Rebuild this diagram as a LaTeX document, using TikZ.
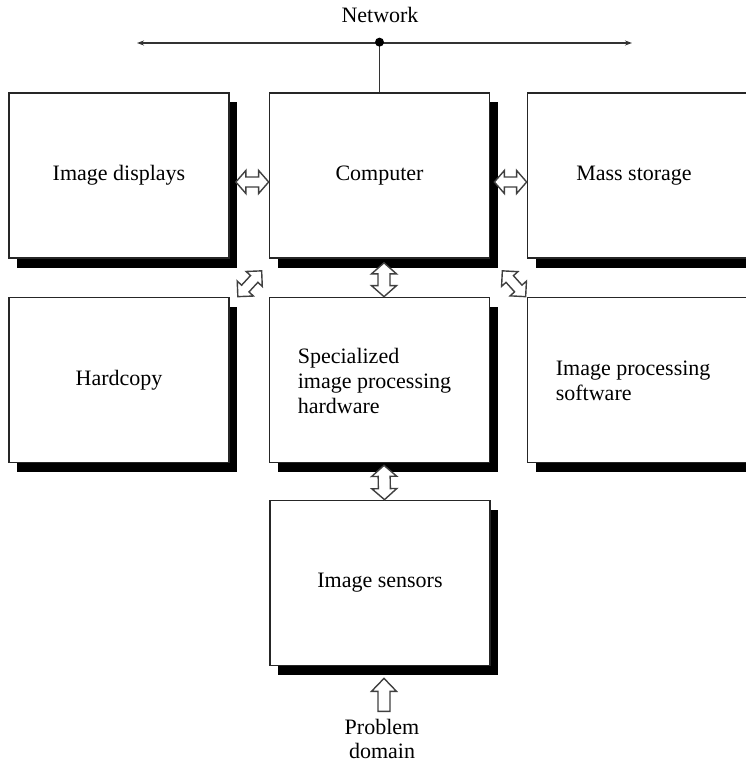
\documentclass[tikz,border=0pt]{standalone}
\usepackage{fontspec}
\setmainfont{Liberation Serif}
\usetikzlibrary{calc,shadows,arrows.meta}
\newcommand\dblarrow[5]{% A, B, head length, half head width, half shaft width
  \draw[arrowline] (#1) -- ($(#1)!#3!(#2)!#4!90:(#2)$) -- ($(#1)!#3!(#2)!#5!90:(#2)$)
    -- ($(#2)!#3!(#1)!#5!-90:(#1)$) -- ($(#2)!#3!(#1)!#4!-90:(#1)$) -- (#2)
    -- ($(#2)!#3!(#1)!#4!90:(#1)$) -- ($(#2)!#3!(#1)!#5!90:(#1)$)
    -- ($(#1)!#3!(#2)!#5!-90:(#2)$) -- ($(#1)!#3!(#2)!#4!-90:(#2)$) -- cycle;}
\begin{document}
\begin{tikzpicture}[x=1pt,y=-1pt,
  box/.style={draw=black!85, line width=1.7pt, fill=white, minimum width=220pt,
    minimum height=165pt, inner sep=0pt, font=\fontsize{22}{25}\selectfont,
    drop shadow={shadow xshift=8pt, shadow yshift=-9.5pt, fill=black, opacity=1}},
  lbl/.style={font=\fontsize{22}{25}\selectfont, inner sep=0pt},
  arrowline/.style={draw=black!75, line width=1.4pt, fill=white, line join=miter},
  netline/.style={draw=black!80, line width=1.6pt}]
\useasboundingbox (0,0) rectangle (746,765);

% boxes
\node[box] (disp) at (119,175.5) {Image displays};
\node[box] (comp) at (379.5,175.5) {Computer};
\node[box] (mass) at (637.5,175.5) {\hspace*{-7pt}Mass storage};
\node[box] (hard) at (119,380) {Hardcopy};
\node[box] (spec) at (379.5,380) {};
\node[box] (soft) at (637.5,380) {};
\node[box] (sens) at (380,583) {Image sensors};

\node[lbl, anchor=west, align=left] (spect) at ($(spec.west)+(29,1)$)
  {Specialized\\image processing\\hardware};
\node[lbl, anchor=west, align=left] (softt) at ($(soft.west)+(29,1)$)
  {Image processing\\software};

% network
\node[lbl] (net) at (380,15) {Network};
\coordinate (nl) at (137,43);
\coordinate (nr) at (632,43);
\coordinate (nd) at ($(comp.north)+(0,-50)$);
\draw[netline, {Stealth[length=7pt,width=5pt]}-{Stealth[length=7pt,width=5pt]}] (nl) -- (nr);
\draw[netline] (nd) -- (comp.north);
\fill[black] (nd) circle (4.5);

% block arrows
\coordinate (a1) at ($(disp.east)+(6,6.5)$);
\coordinate (b1) at ($(comp.west)+(0,6.5)$);
\dblarrow{a1}{b1}{10pt}{11.5pt}{5pt}
\coordinate (a2) at ($(comp.east)+(4,6.5)$);
\coordinate (b2) at ($(mass.west)+(0,6.5)$);
\dblarrow{a2}{b2}{10pt}{11.5pt}{5pt}
\coordinate (a3) at ($(comp.south)+(4.5,4)$);
\coordinate (b3) at ($(spec.north)+(4.5,0)$);
\dblarrow{a3}{b3}{11pt}{12.5pt}{6pt}
\coordinate (a4) at ($(spec.south)+(4.5,2)$);
\coordinate (b4) at ($(sens.north)+(4.5,0)$);
\dblarrow{a4}{b4}{11pt}{12.5pt}{6pt}
\coordinate (a5) at ($(hard.north east)+(8,0)$);
\coordinate (b5) at ($(comp.south west)+(-7,12)$);
\dblarrow{a5}{b5}{11pt}{11pt}{5pt}
\coordinate (a6) at ($(comp.south east)+(12,12)$);
\coordinate (b6) at ($(soft.north west)+(-1,0)$);
\dblarrow{a6}{b6}{11pt}{11pt}{5pt}

% problem domain
\node[lbl, align=center, font=\fontsize{22}{24}\selectfont] (pd) at (382,739) {Problem\\domain};
\coordinate (pt) at ($(sens.south)+(4,12)$);
\draw[arrowline] (pt) -- ++(12.5,13) -- ++(-6.5,0) -- ++(0,20) -- ++(-12,0)
  -- ++(0,-20) -- ++(-6.5,0) -- cycle;
\end{tikzpicture}
\end{document}
